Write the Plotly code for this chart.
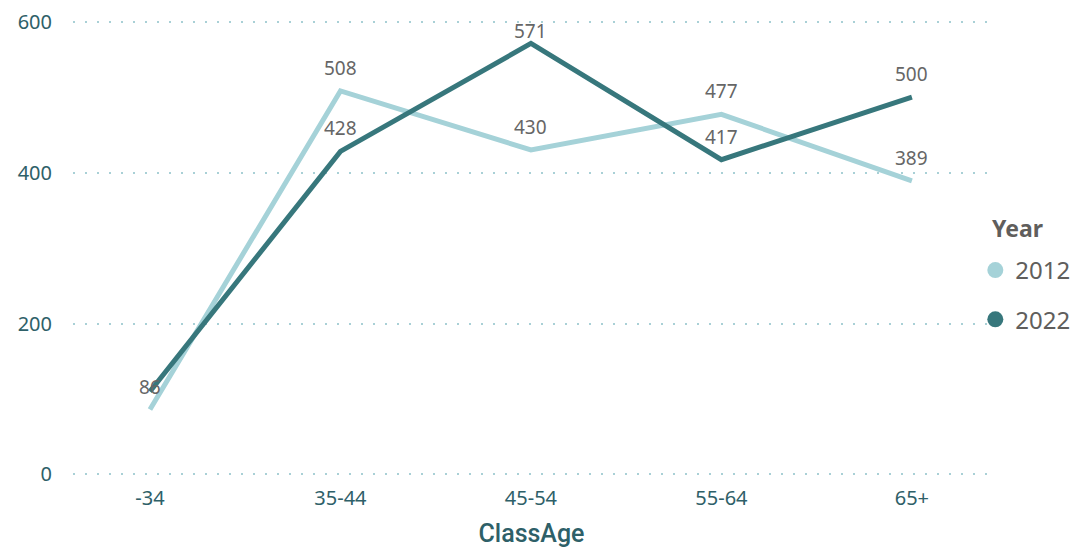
import plotly.graph_objects as go

# Age classes on the category axis
class_age = ["-34", "35-44", "45-54", "55-64", "65+"]

# Counts per age class for each survey year
values_2012 = [86, 508, 430, 477, 389]
values_2022 = [110, 428, 571, 417, 500]

# Which data labels are shown (the first 2022 label collides with the 2012 one)
show_2012 = [True, True, True, True, True]
show_2022 = [False, True, True, True, True]

y_ticks = [0, 200, 400, 600]
y_range = [-2, 602]

c2012 = "#A5D2D8"
c2022 = "#37777C"
tick_color = "#2E6068"
label_color = "#666666"

W, H = 1077, 550
M = dict(l=73, r=87, t=20, b=74)
plot_h = H - M["t"] - M["b"]
px_per_unit = plot_h / (y_range[1] - y_range[0])
LABEL_H = 26
GAP = 8

fig = go.Figure()

for name, vals, shown, col in [
    ("2012", values_2012, show_2012, c2012),
    ("2022", values_2022, show_2022, c2022),
]:
    fig.add_trace(go.Scatter(
        x=class_age, y=vals, mode="lines", name=name,
        line=dict(color=col, width=5),
        showlegend=False,
    ))
    for i, (v, s) in enumerate(zip(vals, shown)):
        if not s:
            continue
        # keep the label inside the plot area when the point is near the top
        room = (y_range[1] - v) * px_per_unit
        shift = min(GAP, room - LABEL_H)
        fig.add_annotation(
            x=i, y=v, xref="x", yref="y", text=str(v), showarrow=False,
            yanchor="bottom", yshift=shift,
            font=dict(family="Noto Sans", size=19, color=label_color),
        )

# Legend entries drawn as filled circles
for i, (name, col) in enumerate([("2012", c2012), ("2022", c2022)]):
    fig.add_trace(go.Scatter(
        x=[None], y=[None], mode="markers", name=name,
        marker=dict(color=col, size=21, symbol="circle"),
        legendgroup=f"g{i}", showlegend=True,
    ))

# Legend heading
fig.add_annotation(
    xref="paper", yref="paper", x=(990 - M["l"]) / (W - M["l"] - M["r"]),
    y=0.544, xanchor="left", yanchor="middle", showarrow=False,
    text="<b>Year</b>", font=dict(family="Noto Sans", size=23, color="#605E5C"),
)

fig.update_layout(
    width=W, height=H,
    margin=dict(**M, autoexpand=False),
    paper_bgcolor="white", plot_bgcolor="white",
    font=dict(family="Noto Sans", color=tick_color),
    legend=dict(
        font=dict(family="Noto Sans", size=24, color="#605E5C"),
        x=0.984, xanchor="left", y=0.50, yanchor="top",
        tracegroupgap=15, itemwidth=30,
        bgcolor="rgba(0,0,0,0)",
    ),
    xaxis=dict(
        type="category", range=[-0.404, 4.41],
        showgrid=False, zeroline=False, showline=False,
        tickfont=dict(family="Noto Sans", size=20, color=tick_color),
        ticks="", ticklabelstandoff=8,
        title=dict(text="ClassAge", font=dict(family="Roboto", size=25, color=tick_color, weight=500), standoff=14),
    ),
    yaxis=dict(
        range=y_range, tickvals=y_ticks,
        showgrid=True, gridcolor="#A9D0D6", griddash="2px,10px", gridwidth=2,
        zeroline=False, showline=False,
        tickfont=dict(family="Noto Sans", size=20, color=tick_color),
        ticks="", ticklabelstandoff=20,
    ),
)

fig.write_html("out.html")
